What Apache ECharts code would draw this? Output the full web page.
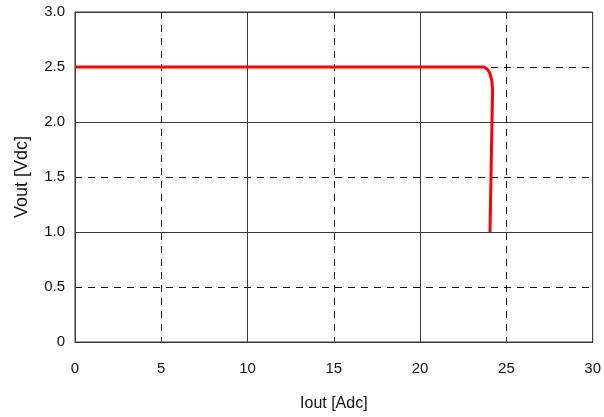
<!DOCTYPE html>
<html><head><meta charset="utf-8">
<script src="https://cdn.jsdelivr.net/npm/echarts@6/dist/echarts.min.js"></script>
<style>html,body{margin:0;padding:0;background:#fff}#c{width:604px;height:417px}</style>
</head><body><div id="c"></div>
<script>
var iout = [0, 5, 10, 15, 20, 23.0, 23.7, 23.9, 24.05, 24.15, 24.2, 24.12, 24.05];
var vout = [2.5, 2.5, 2.5, 2.5, 2.5, 2.5, 2.5, 2.48, 2.44, 2.38, 2.3, 1.6, 1.0];
var xName = 'Iout [Adc]';
var yName = 'Vout [Vdc]';
var gridColor = '#3a3a3a';
var font = 'Liberation Sans, Arial, sans-serif';
var chart = echarts.init(document.getElementById('c'));
var data = iout.map(function(x, i){ return [x, vout[i]]; });
chart.setOption({
  animation: false,
  grid: {left: 75, right: 10, top: 12, bottom: 74, show: true, borderColor: gridColor, borderWidth: 1},
  xAxis: [{
    type: 'value', min: 0, max: 30, interval: 5,
    name: xName, nameLocation: 'middle', nameGap: 54,
    nameTextStyle: {fontFamily: font, fontSize: 16, color: '#111'},
    axisLine: {show: true, lineStyle: {color: gridColor}},
    axisTick: {show: true, inside: true, length: 5, lineStyle: {color: gridColor}},
    axisLabel: {fontFamily: font, fontSize: 15, color: '#111', margin: 19},
    splitLine: {show: true, lineStyle: {color: '#111', type: [7, 6], width: 1}}
  }, {
    type: 'value', min: 0, max: 30, interval: 10, position: 'bottom',
    axisLine: {show: false}, axisTick: {show: false}, axisLabel: {show: false},
    splitLine: {show: true, lineStyle: {color: gridColor, type: 'solid', width: 1}}
  }],
  yAxis: [{
    type: 'value', min: 0, max: 3, interval: 0.5,
    name: yName, nameLocation: 'middle', nameGap: 44,
    nameTextStyle: {fontFamily: font, fontSize: 18, color: '#111'},
    axisLine: {show: true, lineStyle: {color: gridColor}},
    axisTick: {show: false},
    axisLabel: {fontFamily: font, fontSize: 15, color: '#111', margin: 10,
      formatter: function(v){ return v === 0 ? '0' : v.toFixed(1); }},
    splitLine: {show: true, lineStyle: {color: '#111', type: [7, 6], width: 1}}
  }, {
    type: 'value', min: 0, max: 3, interval: 1, position: 'left',
    axisLine: {show: false}, axisTick: {show: false}, axisLabel: {show: false},
    splitLine: {show: true, lineStyle: {color: gridColor, type: 'solid', width: 1}}
  }],
  series: [{
    type: 'line', data: data, xAxisIndex: 0, yAxisIndex: 0,
    showSymbol: false, symbol: 'none', smooth: false,
    lineStyle: {color: '#ff0000', width: 3}, z: 10
  }]
});
</script></body></html>
